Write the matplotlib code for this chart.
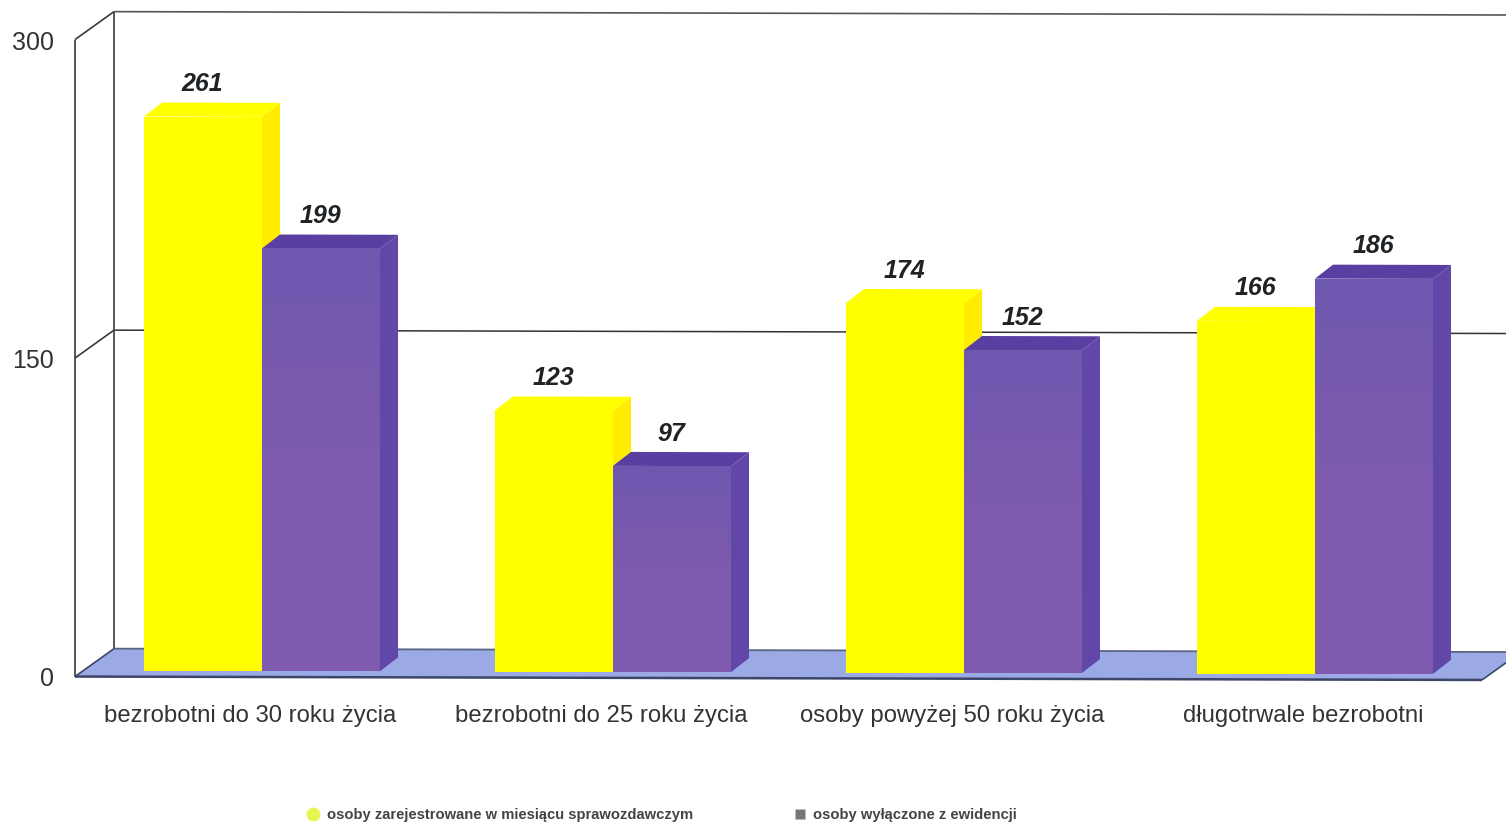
import numpy as np
import matplotlib
matplotlib.use("Agg")
import matplotlib.pyplot as plt
from matplotlib.patches import Polygon
from matplotlib.lines import Line2D
from matplotlib.colors import LinearSegmentedColormap
from matplotlib.transforms import Affine2D

categories = ["bezrobotni do 30 roku życia", "bezrobotni do 25 roku życia",
              "osoby powyżej 50 roku życia", "długotrwale bezrobotni"]
registered = [261, 123, 174, 166]
removed = [199, 97, 152, 186]
series_names = ["osoby zarejestrowane w miesiącu sprawozdawczym", "osoby wyłączone z ewidencji"]
y_ticks = [0, 150, 300]

W, H = 1506, 824
PX_X = 351.0            # pixels per category
PX_Y = 637 / 300        # pixels per unit of value
BAR_W = 118 / PX_X
SIDE_DX, SIDE_DY = 18 / PX_X, 14 / PX_Y
WALL_DX, WALL_DY = 39 / PX_X, 28 / PX_Y
BASE = 6 / PX_Y
X0, X1 = (75 - 262) / PX_X, (1482 - 262) / PX_X

plt.rcParams["font.family"] = ["Liberation Sans", "DejaVu Sans"]
fig = plt.figure(figsize=(W / 100, H / 100), dpi=100, facecolor="white")
ax = fig.add_axes([75 / W, (H - 677) / H, (1482 - 75) / W, 637 / H])
ax.set_xlim(X0, X1)
ax.set_ylim(0, 300)
ax.patch.set_visible(False)
for s in ax.spines.values():
    s.set_visible(False)
tilt = Affine2D.from_values(1, -0.4, 0, 1, 0, 0) + ax.transData


def poly(pts, color, z, **kw):
    ax.add_patch(Polygon(pts, closed=True, facecolor=color, edgecolor=kw.pop("ec", "none"),
                         transform=tilt, clip_on=False, zorder=z, **kw))


def line(xs, ys, color="#3a3a3a", lw=1.2, z=1):
    ax.plot(xs, ys, color=color, lw=lw, transform=tilt, clip_on=False, zorder=z,
            solid_capstyle="butt")


# floor and walls
poly([(X0, 0), (X0 + WALL_DX, WALL_DY), (X1 + WALL_DX, WALL_DY), (X1, 0)], "#9BA9E4", 1)
line([X0, X1], [0, 0], "#3b4668", 1.8, 2)
line([X0 + WALL_DX, X1 + WALL_DX], [WALL_DY, WALL_DY], "#5a6484", 1.3, 2)
line([X1, X1 + WALL_DX], [0, WALL_DY], "#3b4668", 1.2, 2)
line([X0, X0], [0, 300])
line([X0 + WALL_DX, X0 + WALL_DX], [WALL_DY, 300 + WALL_DY])
line([X0 + WALL_DX, X1 + WALL_DX], [300 + WALL_DY, 300 + WALL_DY], "#555555")
line([X0, X0 + WALL_DX], [300, 300 + WALL_DY])
line([X0, X0 + WALL_DX], [150, 150 + WALL_DY])
line([X0 + WALL_DX, X1 + WALL_DX], [150 + WALL_DY, 150 + WALL_DY], "#333333", 1.1)
line([X0, X0 + WALL_DX], [0, WALL_DY], "#3b4668")

cm_y = LinearSegmentedColormap.from_list("y", ["#FFFF00", "#FFFF00"])
cm_p = LinearSegmentedColormap.from_list("p", ["#7F5BAF", "#7D5AAE", "#6E57AF"])


def bar(left, v, cmap, top, side, z):
    r, b, t = left + BAR_W, BASE, BASE + v
    poly([(r, b), (r + SIDE_DX, b + SIDE_DY), (r + SIDE_DX, t + SIDE_DY), (r, t)], side, z)
    poly([(left, t), (left + SIDE_DX, t + SIDE_DY), (r + SIDE_DX, t + SIDE_DY), (r, t)], top, z)
    ys = np.linspace(b, t, 40)
    ax.pcolormesh([left, r], ys, np.linspace(0, 1, 39).reshape(-1, 1), cmap=cmap,
                  transform=tilt, clip_on=False, zorder=z, shading="flat")
    ax.text(left + BAR_W / 2 - 1 / PX_X, t + SIDE_DY + 18.5 / PX_Y, str(v), transform=tilt,
            ha="center", va="center", fontsize=18, fontweight="bold", fontstyle="italic",
            color="#1f2326", zorder=10)


for i, (a, c) in enumerate(zip(registered, removed)):
    bar(i - BAR_W, a, cm_y, "#FFFF00", "#FFEC00", 3 + i)
    bar(i, c, cm_p, "#5A3FA3", "#6148A8", 3.5 + i)

ax.set_yticks(y_ticks)
ax.set_xticks(np.arange(len(categories)) - 0.033)
ax.set_xticklabels(categories)
ax.tick_params(axis="y", length=0, pad=15, labelsize=18, labelcolor="#333333")
ax.tick_params(axis="x", length=0, pad=20, labelsize=17.2, labelcolor="#333333")

handles = [Line2D([], [], ls="none", marker="o", ms=10, mfc="#E6F550", mec="none"),
           Line2D([], [], ls="none", marker="s", ms=7, mfc="#777777", mec="none")]
fig.legend(handles, series_names, loc="center left", bbox_to_anchor=(291 / W, 1 - 815 / H),
           ncol=2, frameon=False, prop={"size": 10.6, "weight": "bold"},
           labelcolor="#444444", handletextpad=-0.07, columnspacing=6.26, borderpad=0)

fig.savefig("out.png", dpi=100, facecolor="white")
